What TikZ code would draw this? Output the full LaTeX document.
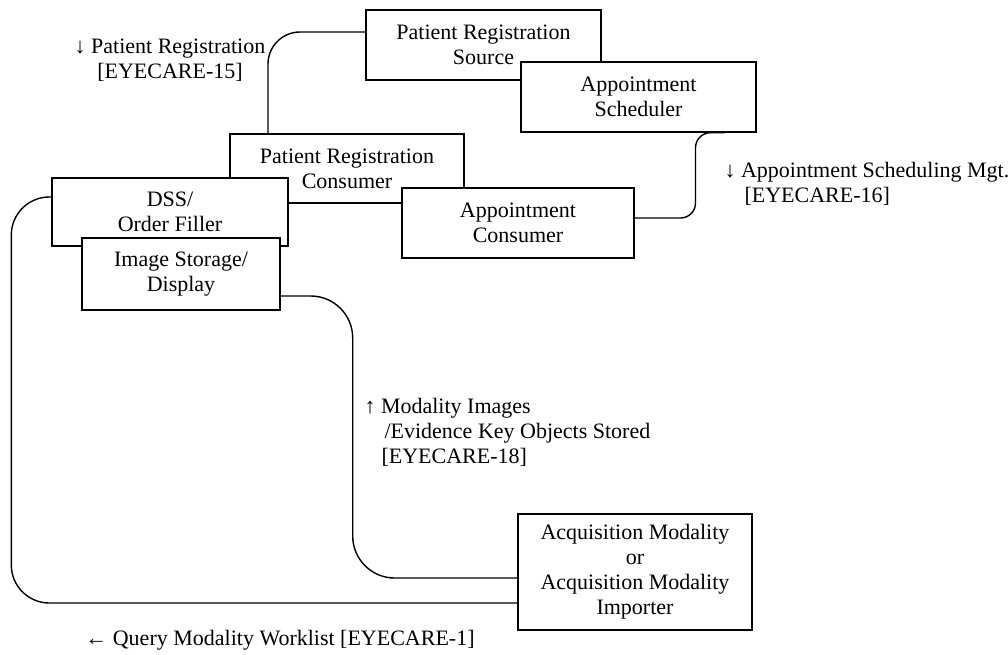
\documentclass[tikz,border=0pt]{standalone}
\usepackage{fontspec}
\setmainfont{Liberation Serif}
\usepackage{tikz}

\begin{document}
\begin{tikzpicture}[x=1pt,y=-1pt,
    actor/.style={draw,fill=white,line width=1.4pt,align=center,inner sep=0pt},
    link/.style={line width=1.4pt},
    every node/.style={font=\fontsize{22}{25}\selectfont}]
    \useasboundingbox (0,0) rectangle (1008,654);
    % Draw the actor boxes (later ones lie on top)
    \foreach \name/\x/\y/\w/\h/\txt in {
      prsrc/483.5/45/235/70/{Patient Registration\\Source},
      apsched/638.5/97/235/70/{Appointment\\Scheduler},
      prcons/347/168.5/234/69/{Patient Registration\\Consumer},
      dss/170/212/236/68/{DSS/\\Order Filler},
      imgdisp/181/274/198/72/{Image Storage/\\Display},
      apcons/518/223/232/70/{Appointment\\Consumer},
      acqmod/635/572/234/116/{Acquisition Modality\\or\\Acquisition Modality\\Importer}}{
      \node[actor,minimum width=\w pt,minimum height=\h pt] (\name) at (\x,\y) {\txt};
    }
    % Draw the transactions
    \draw[link,rounded corners=32pt] ([yshift=13pt]prsrc.west) -| ([xshift=-79pt]prcons.north);
    \draw[link,rounded corners=15pt] ([xshift=86pt]apsched.south) -- ++(-29,0) |- ([yshift=5pt]apcons.east);
    \draw[link,rounded corners=42pt] ([yshift=-22pt]imgdisp.east) -- ++(72,0) |- ([yshift=-6pt]acqmod.west);
    \draw[link,rounded corners=38pt] ([yshift=15pt]dss.west) -- ++(-40,0) |- ([yshift=-31pt]acqmod.west);
    % Label the transactions
    \node[align=center] (lblreg) at (170,60) {↓ Patient Registration\\{}[EYECARE-15]};
    \node[align=left,anchor=west] (lblsched) at (721,184) {↓ Appointment Scheduling Mgt.\\\hspace*{20pt}[EYECARE-16]};
    \node[align=left,anchor=west] (lblimg) at (361,432) {↑ Modality Images\\\hspace*{20pt}/Evidence Key Objects Stored\\\hspace*{17pt}[EYECARE-18]};
    \node (lblwork) at (280,640) {← Query Modality Worklist [EYECARE-1]};
  \end{tikzpicture}
\end{document}
